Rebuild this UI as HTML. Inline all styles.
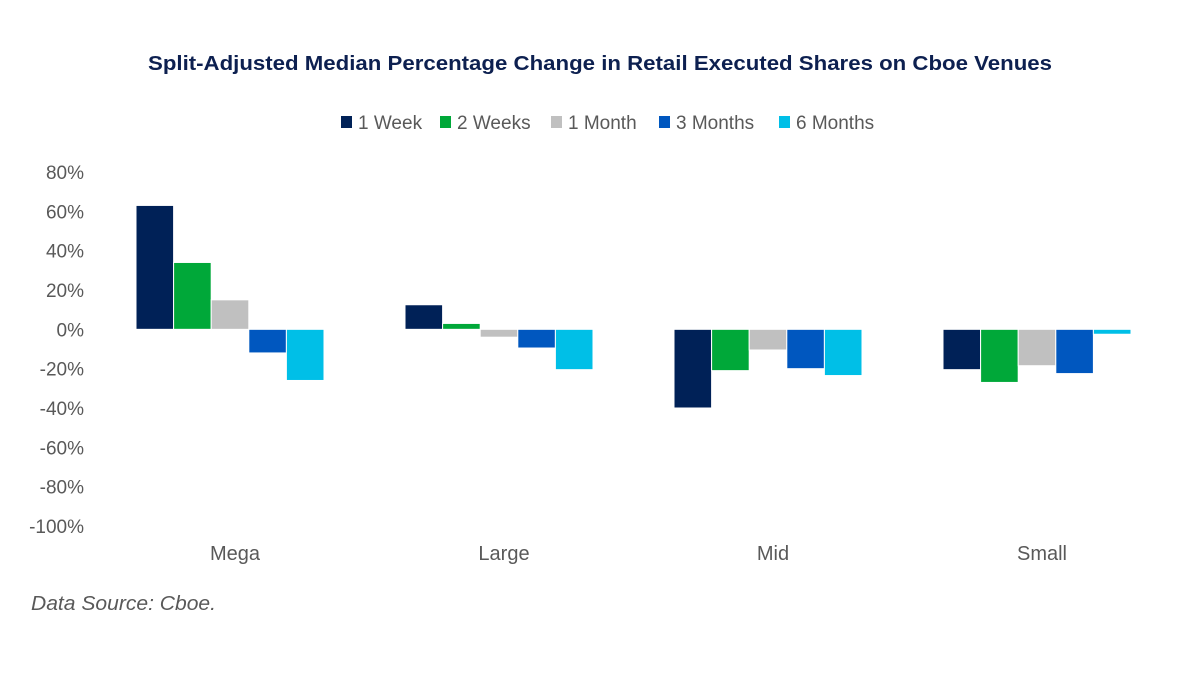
<!DOCTYPE html>
<html><head><meta charset="utf-8"><style>
body{margin:0;background:#fff;width:1200px;height:676px;overflow:hidden}
svg text{font-family:"Liberation Sans",sans-serif}
</style></head><body>
<svg id="chart" width="1200" height="676" xmlns="http://www.w3.org/2000/svg">
<text x="600" y="70" text-anchor="middle" font-size="20" font-weight="bold" fill="#0d2050" textLength="904" lengthAdjust="spacingAndGlyphs">Split-Adjusted Median Percentage Change in Retail Executed Shares on Cboe Venues</text>
<g id="legend"></g>
<g id="yaxis"></g>
<g id="bars"></g>
<g id="xaxis"></g>
<text x="31" y="610" font-size="20" font-style="italic" fill="#595959" textLength="185" lengthAdjust="spacingAndGlyphs">Data Source: Cboe.</text>
</svg>
<script>
const categories=["Mega","Large","Mid","Small"];
const seriesNames=["1 Week","2 Weeks","1 Month","3 Months","6 Months"];
const week1=[63,12.5,-40,-20.5];
const weeks2=[34,3,-21,-27];
const month1=[15,-4,-10.5,-18.5];
const months3=[-12,-9.5,-20,-22.5];
const months6=[-26,-20.5,-23.5,-2.5];
const yTicks=[80,60,40,20,0,-20,-40,-60,-80,-100];
const colors=["#002157","#00a839","#c0c0c0","#0057bf","#00bfe7"];
const series=[week1,weeks2,month1,months3,months6];
const NS="http://www.w3.org/2000/svg";
const yTop=172,yBot=526,yMax=80,yMin=-100;
const y=v=>yTop+(yMax-v)*(yBot-yTop)/(yMax-yMin);
const x0=95.5,groupW=269,barW=37.6,gap=40.5;
const x=(g,s)=>x0+g*groupW+gap+s*barW;
function mk(tag,attrs,parent){const e=document.createElementNS(NS,tag);for(const k in attrs)e.setAttribute(k,attrs[k]);parent.appendChild(e);return e;}
const yg=document.getElementById('yaxis');
yTicks.forEach(t=>{const e=mk('text',{x:84,y:y(t)+7,'text-anchor':'end','font-size':19,fill:'#595959'},yg);e.textContent=t+'%';

});
const bg=document.getElementById('bars');
series.forEach((arr,s)=>arr.forEach((v,g)=>{const r=mk('rect',{x:x(g,s),y:Math.min(y(v),y(0)),width:barW,height:Math.abs(y(v)-y(0)),fill:colors[s],stroke:'#fff','stroke-width':1},bg);

}));
const xg=document.getElementById('xaxis');
categories.forEach((c,g)=>{const e=mk('text',{x:x0+g*groupW+groupW/2+5,y:560,'text-anchor':'middle','font-size':20,fill:'#595959'},xg);e.textContent=c;

});
const lg=document.getElementById('legend');
const lx=[341,440,551,659,779];
seriesNames.forEach((n,i)=>{const r=mk('rect',{x:lx[i],y:116,width:11,height:12,fill:colors[i]},lg);


const t=mk('text',{x:lx[i]+17,y:129,'font-size':19,fill:'#595959'},lg);t.textContent=n;

});
</script>
</body></html>
